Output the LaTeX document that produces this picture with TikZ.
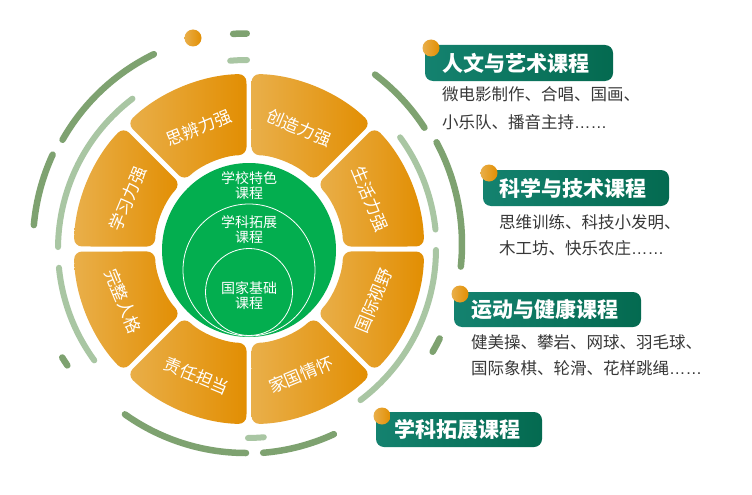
\documentclass[tikz,border=0pt]{standalone}
\usepackage{fontspec}
\setmainfont{Noto Sans CJK SC}
\newfontfamily\latinf{Liberation Sans}
\usetikzlibrary{calc}
\definecolor{orL}{HTML}{E9AF4A}
\definecolor{orR}{HTML}{E28E02}
\definecolor{grn}{HTML}{03AE4F}
\definecolor{dkg}{HTML}{7EA270}
\definecolor{ltg}{HTML}{A9C6A3}
\definecolor{tealL}{HTML}{14826F}
\definecolor{tealR}{HTML}{046A50}
\definecolor{txt}{HTML}{383838}
\tikzset{
  darc/.style={draw=dkg,line width=6.5pt,line cap=round},
  larc/.style={draw=ltg,line width=6pt,line cap=round},
  segtext/.style={text=white,inner sep=0pt,font=\fontsize{17}{17}\selectfont},
  ctext/.style={text=white,inner sep=0pt,align=center,font=\fontsize{14}{15}\selectfont},
  titlebox/.style={left color=tealL,right color=tealR,rounded corners=8pt},
  titletext/.style={text=white,inner sep=0pt,anchor=west,font=\bfseries\fontsize{21}{21}\selectfont},
  desctext/.style={text=txt,inner sep=0pt,anchor=west,font=\fontsize{16.5}{16.5}\selectfont},
  odot/.style={left color=orL,right color=orR}
}
\begin{document}
\begin{tikzpicture}[x=1pt,y=1pt]
\useasboundingbox[fill=white] (0,0) rectangle (752,-495);
% dark arcs
\begin{scope}[shift={(246,-244)}]
\draw[darc] (115.9:211) arc[start angle=115.9,end angle=150.4,radius=211];
\draw[darc] (155.2:213) arc[start angle=155.2,end angle=174.9,radius=213];
\draw[darc] (211.7:216) arc[start angle=211.7,end angle=214.2,radius=216];
\draw[darc] (234.6:209) arc[start angle=234.6,end angle=270,radius=209];
\draw[darc] (274.7:209.5) arc[start angle=274.7,end angle=294.8,radius=209.5];
\draw[darc] (-30:215.5) arc[start angle=-30,end angle=-26,radius=215.5];
\draw[darc] (-6:216) arc[start angle=-6,end angle=28.1,radius=216];
\draw[darc] (33.1:213) arc[start angle=33.1,end angle=52.7,radius=213];
\draw[darc] (89.8:210.5) arc[start angle=89.8,end angle=93.5,radius=210.5];
\end{scope}
% light arcs
\begin{scope}[shift={(247,-249)}]
\draw[larc] (127.3:189) arc[start angle=127.3,end angle=179.4,radius=189];
\draw[larc] (185.7:189) arc[start angle=185.7,end angle=216.1,radius=189];
\draw[larc] (270.3:189) arc[start angle=270.3,end angle=275.1,radius=189];
\draw[larc] (-53.1:189) arc[start angle=-53.1,end angle=-0.3,radius=189];
\draw[larc] (5.9:189.5) arc[start angle=5.9,end angle=36.1,radius=189.5];
\draw[larc] (90:189) arc[start angle=90,end angle=95.1,radius=189];
\end{scope}
\shade[odot] (193,-38) circle (8.5);
% segments
\begin{scope}[shift={(249,-249)}]
\foreach \a/\lab/\rot/\rr in {0/生活力强/-67.5/131,45/创造力强/-22.5/131,90/思辨力强/22.5/131,135/学习力强/67.5/131,180/完整人格/-67.5/136,225/责任担当/-22.5/137,270/家国情怀/22.5/136,315/国际视野/67.5/135}{
  \pgfmathsetmacro\sa{\a+0.82}
  \pgfmathsetmacro\ea{\a+45-0.82}
  \pgfmathsetmacro\si{\a+45-1.52}
  \pgfmathsetmacro\ei{\a+1.52}
  \pgfmathsetmacro\m{\a+22.5}
  \shade[left color=orL,right color=orR,rounded corners=8pt] (\sa:175) arc[start angle=\sa,end angle=\ea,radius=175] -- (\si:94) arc[start angle=\si,end angle=\ei,radius=94] -- cycle;
  \node[segtext,rotate=\rot] (seg\a) at (\m:\rr) {\lab};
}
\end{scope}
% green core
\fill[grn] (249,-250) circle (87);
\draw[white,line width=0.8pt] (249,-270) circle (66);
\draw[white,line width=0.8pt] (249,-292) circle (43.5);
\node[ctext] (c1) at (249,-185.5) {学校特色\\课程};
\node[ctext] (c2) at (249,-230) {学科拓展\\课程};
\node[ctext] (c3) at (249,-295.5) {国家基础\\课程};
% title boxes
\shade[titlebox] (425,-45) rectangle (613,-81);
\shade[odot] (431,-48) circle (8.5);
\node[titletext] (t1) at (442,-63) {人文与艺术课程};
\node[desctext] (d1a) at (442,-94) {微电影制作、合唱、国画、};
\node[desctext] (d1b) at (442,-122) {小乐队、播音主持{\latinf ……}};

\shade[titlebox] (483,-170) rectangle (669,-206);
\shade[odot] (489,-173) circle (8.5);
\node[titletext] (t2) at (499,-188) {科学与技术课程};
\node[desctext] (d2a) at (499,-222) {思维训练、科技小发明、};
\node[desctext] (d2b) at (499,-248) {木工坊、快乐农庄{\latinf ……}};

\shade[titlebox] (454,-292) rectangle (641,-327);
\shade[odot] (460,-294) circle (8.5);
\node[titletext] (t3) at (471,-309.5) {运动与健康课程};
\node[desctext] (d3a) at (471,-342) {健美操、攀岩、网球、羽毛球、};
\node[desctext] (d3b) at (471,-368) {国际象棋、轮滑、花样跳绳{\latinf ……}};

\shade[titlebox] (376,-412) rectangle (542,-447);
\shade[odot] (382,-416) circle (8.5);
\node[titletext] (t4) at (394,-429.5) {学科拓展课程};
\end{tikzpicture}
\end{document}
